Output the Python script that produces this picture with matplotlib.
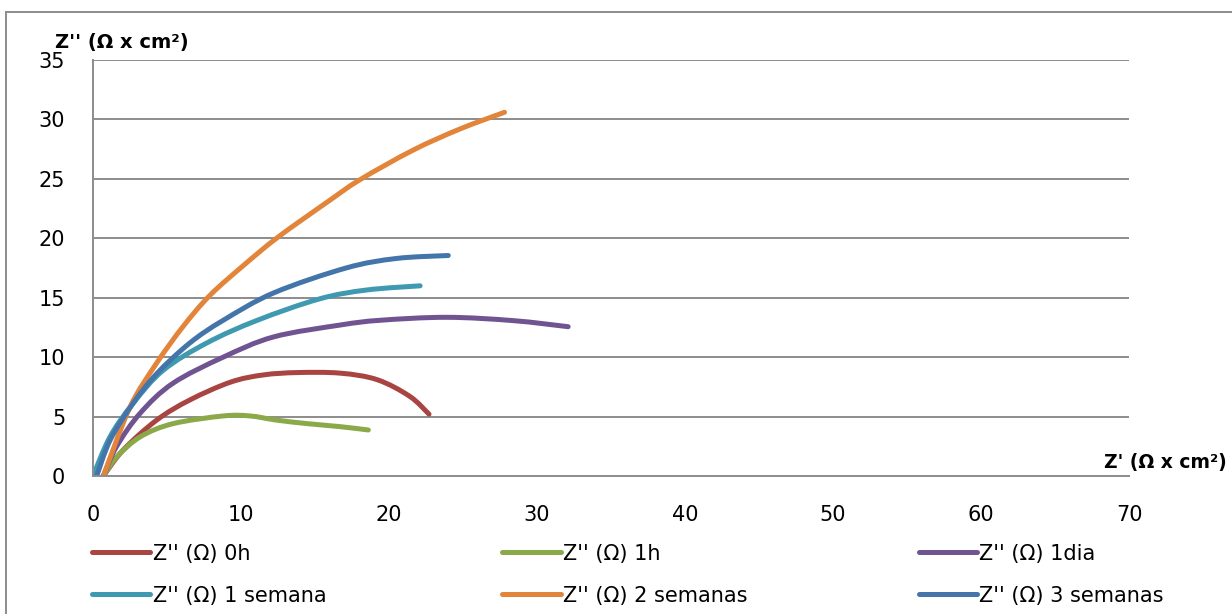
import numpy as np
import matplotlib.pyplot as plt
from matplotlib.patches import Rectangle, PathPatch
from matplotlib.path import Path
from matplotlib.lines import Line2D

plt.rcParams['font.family'] = ['DejaVu Sans']

# Diagrammes de Nyquist : Z' et Z'' en Ohm x cm2
labels = ["Z'' (Ω) 0h", "Z'' (Ω) 1h", "Z'' (Ω) 1dia",
          "Z'' (Ω) 1 semana", "Z'' (Ω) 2 semanas", "Z'' (Ω) 3 semanas"]
colors = ["#A84442", "#8AAA4A", "#6F5491", "#3F9AB1", "#E2853A", "#4475AA"]

zr_0h = [0.7, 2.05, 4.3, 6.55, 9.3, 11.5, 13.8, 16.7, 19.2, 21.4, 22.7]
zi_0h = [0.0, 2.2, 4.7, 6.4, 7.9, 8.5, 8.7, 8.65, 8.1, 6.7, 5.2]

zr_1h = [0.7, 1.6, 3.2, 5.4, 8.8, 10.6, 12.4, 14.5, 16.7, 18.6]
zi_1h = [0.0, 1.6, 3.3, 4.4, 5.05, 5.05, 4.7, 4.4, 4.15, 3.87]

zr_1d = [0.7, 1.6, 3.2, 5.4, 8.8, 12.2, 16.7, 19.4, 23.9, 28.4, 32.1]
zi_1d = [0.0, 2.5, 5.3, 7.8, 10.0, 11.7, 12.7, 13.1, 13.35, 13.07, 12.56]

zr_1s = [0.0, 1.15, 2.7, 4.75, 7.7, 11.1, 15.3, 18.5, 22.1]
zi_1s = [0.0, 3.3, 6.1, 8.9, 11.2, 13.1, 14.9, 15.65, 16.0]

zr_2s = [0.7, 2.5, 4.3, 6.1, 7.9, 10.2, 12.5, 16.0, 18.0, 21.6, 24.8, 27.8]
zi_2s = [0.0, 5.8, 9.5, 12.6, 15.2, 17.75, 20.1, 23.2, 24.9, 27.4, 29.2, 30.6]

zr_3s = [0.25, 1.15, 2.7, 4.3, 6.55, 8.8, 12.2, 17.1, 20.5, 24.0]
zi_3s = [0.0, 3.0, 6.1, 8.6, 11.2, 13.1, 15.4, 17.5, 18.3, 18.55]

series = [(zr_0h, zi_0h), (zr_1h, zi_1h), (zr_1d, zi_1d),
          (zr_1s, zi_1s), (zr_2s, zi_2s), (zr_3s, zi_3s)]


def smooth_path(x, y):
    """Courbe lissee (Bezier cubique, type Catmull-Rom) passant par les points."""
    p = np.column_stack([x, y]).astype(float)
    verts = [p[0]]
    codes = [Path.MOVETO]
    for i in range(len(p) - 1):
        p0 = p[i - 1] if i > 0 else p[i]
        p3 = p[i + 2] if i + 2 < len(p) else p[i + 1]
        c1 = p[i] + (p[i + 1] - p0) / 6
        c2 = p[i + 1] - (p3 - p[i]) / 6
        verts += [c1, c2, p[i + 1]]
        codes += [Path.CURVE4] * 3
    return Path(verts, codes)


fig = plt.figure(figsize=(12.32, 6.14), dpi=100)
ax = fig.add_axes([0.0755, 0.2248, 0.841, 0.6775])

handles = []
for (x, y), lab, col in zip(series, labels, colors):
    ax.add_patch(PathPatch(smooth_path(x, y), fill=False, edgecolor=col,
                           lw=3.6, capstyle='round', joinstyle='round'))
    handles.append(Line2D([], [], color=col, lw=3.6, solid_capstyle='round'))

ax.set_xlim(0, 70)
ax.set_ylim(0, 35)
ax.set_xticks(np.arange(0, 71, 10))
ax.set_yticks(np.arange(0, 36, 5))
ax.tick_params(length=0, labelsize=15, colors='black')
ax.tick_params(axis='x', pad=21)
ax.tick_params(axis='y', pad=20)
ax.grid(axis='y', color='#8c8c8c', lw=1.4)
ax.set_axisbelow(True)
for s in ['top', 'right']:
    ax.spines[s].set_visible(False)
for s in ['left', 'bottom']:
    ax.spines[s].set_color('#8c8c8c')
    ax.spines[s].set_linewidth(1.4)

# titres des axes
fig.text(0.045, 0.93, "Z'' (Ω x cm²)", fontsize=14, fontweight='bold', va='center')
fig.text(0.996, 0.247, "Z' (Ω x cm²)", fontsize=13.5, fontweight='bold',
         va='center', ha='right')

# legende en trois colonnes
col_x = [0.068, 0.401, 0.739]
for i, xpos in enumerate(col_x):
    fig.legend([handles[i], handles[i + 3]], [labels[i], labels[i + 3]],
               loc='upper left', bbox_to_anchor=(xpos, 0.128), frameon=False,
               fontsize=15, handlelength=2.8, handletextpad=0.1,
               labelspacing=1.05, borderaxespad=0)

# cadre du graphique
fig.patches.append(Rectangle((6 / 1232, -0.1), 1.2, 1 - 12 / 614 + 0.1,
                             transform=fig.transFigure, fill=False,
                             edgecolor='#8c8c8c', lw=1.4))

fig.savefig('out.png', dpi=100)
